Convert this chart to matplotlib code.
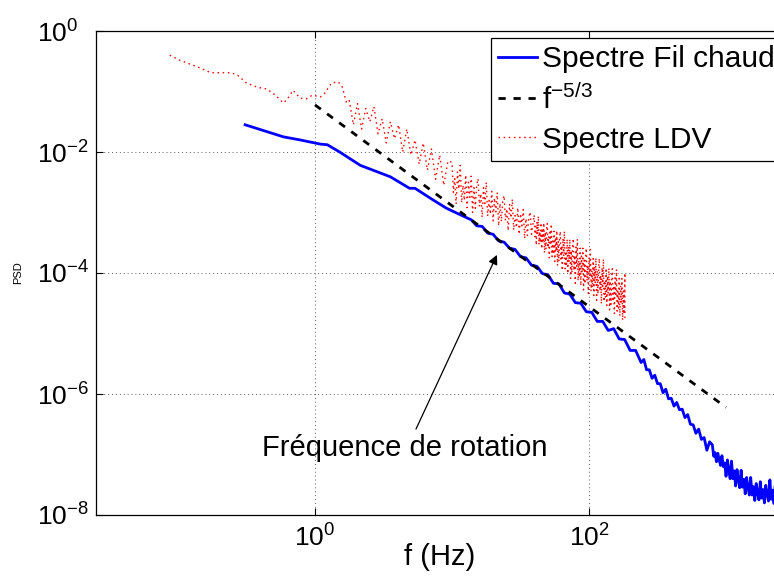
import numpy as np
import matplotlib
matplotlib.use("Agg")
from matplotlib import pyplot as plt
from matplotlib.ticker import NullLocator

plt.rcParams["font.family"] = ["Liberation Sans", "DejaVu Sans"]
plt.rcParams["mathtext.fontset"] = "custom"
plt.rcParams["mathtext.rm"] = "Liberation Sans"
plt.rcParams["mathtext.it"] = "Liberation Sans:italic"
plt.rcParams["mathtext.sf"] = "Liberation Sans"

# hot-wire spectrum (log10 of f and of PSD)
fil_logf = [-0.51, -0.23, -0.11, 0.04, 0.09, 0.18, 0.33, 0.55, 0.69, 0.73, 0.86, 0.96, 1.11,
            1.14, 1.18, 1.22, 1.26, 1.30, 1.34, 1.38, 1.42, 1.46, 1.50, 1.54, 1.58, 1.62, 1.66,
            1.70, 1.74, 1.78, 1.82, 1.86, 1.90, 1.94, 1.98, 2.02, 2.06, 2.10, 2.14, 2.18, 2.22,
            2.26, 2.30, 2.34, 2.38,
            2.40, 2.42, 2.44, 2.46, 2.48, 2.50, 2.52, 2.54, 2.56, 2.58, 2.60, 2.62, 2.64, 2.66,
            2.68, 2.70, 2.72, 2.74, 2.76, 2.78, 2.80, 2.82, 2.84, 2.86, 2.88,
            2.90, 2.91, 2.92, 2.93, 2.94, 2.95, 2.96, 2.97, 2.98, 2.99,
            3.00, 3.01, 3.02, 3.03, 3.04, 3.05, 3.06, 3.07, 3.08, 3.09,
            3.10, 3.11, 3.12, 3.13, 3.14, 3.15, 3.16, 3.17, 3.18, 3.19,
            3.20, 3.21, 3.22, 3.23, 3.24, 3.25, 3.26, 3.27, 3.28, 3.29,
            3.30, 3.31, 3.32, 3.33, 3.34, 3.35, 3.36, 3.37, 3.38, 3.39, 3.40]
fil_logpsd = [-1.55, -1.75, -1.80, -1.87, -1.88, -2.00, -2.22, -2.41, -2.60, -2.60, -2.79, -2.93, -3.09,
              -3.12, -3.22, -3.23, -3.34, -3.36, -3.47, -3.49, -3.59, -3.61, -3.73, -3.75, -3.87, -3.89, -4.01,
              -4.03, -4.17, -4.18, -4.33, -4.35, -4.49, -4.50, -4.64, -4.65, -4.80, -4.80, -4.95, -4.92, -5.09,
              -5.10, -5.28, -5.28, -5.48,
              -5.43, -5.60, -5.60, -5.74, -5.69, -5.83, -5.83, -5.98, -5.92, -6.08, -6.07, -6.20, -6.14, -6.26,
              -6.25, -6.39, -6.34, -6.50, -6.51, -6.65, -6.58, -6.75, -6.72, -6.93, -6.79,
              -6.84, -7.03, -6.97, -7.12, -6.98, -7.09, -7.18, -7.02, -7.20, -7.14,
              -7.36, -7.09, -7.26, -7.40, -7.11, -7.40, -7.27, -7.52, -7.25, -7.42,
              -7.55, -7.26, -7.54, -7.41, -7.65, -7.38, -7.54, -7.67, -7.38, -7.67,
              -7.53, -7.76, -7.48, -7.64, -7.75, -7.45, -7.72, -7.58, -7.80, -7.51,
              -7.66, -7.77, -7.42, -7.74, -7.59, -7.81, -7.44, -7.67, -7.78, -7.42, -7.74]

# LDV spectrum (log10 of f and of PSD)
ldv_logf = [-1.06, -0.99, -0.91, -0.84, -0.76, -0.61, -0.56, -0.50, -0.42, -0.35, -0.29, -0.23,
            -0.20, -0.16, -0.11, -0.06, -0.02, 0.04, 0.07, 0.12, 0.17, 0.20, 0.23,
            0.25, 0.28, 0.31, 0.34, 0.37, 0.40, 0.43, 0.46, 0.49, 0.52, 0.55, 0.58, 0.61,
            0.64, 0.67, 0.70, 0.73, 0.76, 0.79, 0.82, 0.85, 0.88, 0.91, 0.94, 0.97,
            1.00, 1.01, 1.02, 1.03, 1.04, 1.05, 1.06, 1.07, 1.08, 1.09,
            1.10, 1.11, 1.12, 1.13, 1.14, 1.15, 1.16, 1.17, 1.18, 1.19,
            1.20, 1.21, 1.22, 1.23, 1.24, 1.25, 1.26, 1.27, 1.28, 1.29,
            1.30, 1.31, 1.32, 1.33, 1.34, 1.35, 1.36, 1.37, 1.38, 1.39,
            1.40, 1.41, 1.42, 1.43, 1.44, 1.45, 1.46, 1.47, 1.48, 1.49,
            1.50, 1.51, 1.52, 1.53, 1.54, 1.55, 1.56, 1.57, 1.58, 1.59,
            1.600, 1.605, 1.610, 1.615, 1.620, 1.625, 1.630, 1.635, 1.640, 1.645,
            1.650, 1.655, 1.660, 1.665, 1.670, 1.675, 1.680, 1.685, 1.690, 1.695,
            1.700, 1.705, 1.710, 1.715, 1.720, 1.725, 1.730, 1.735, 1.740, 1.745,
            1.750, 1.755, 1.760, 1.765, 1.770, 1.775, 1.780, 1.785, 1.790, 1.795,
            1.800, 1.805, 1.810, 1.815, 1.820, 1.825, 1.830, 1.835, 1.840, 1.845,
            1.850, 1.855, 1.860, 1.865, 1.870, 1.875, 1.880, 1.885, 1.890, 1.895,
            1.900, 1.905, 1.910, 1.915, 1.920, 1.925, 1.930, 1.935, 1.940, 1.945,
            1.950, 1.955, 1.960, 1.965, 1.970, 1.975, 1.980, 1.985, 1.990, 1.995,
            2.000, 2.005, 2.010, 2.015, 2.020, 2.025, 2.030, 2.035, 2.040, 2.045,
            2.050, 2.055, 2.060, 2.065, 2.070, 2.075, 2.080, 2.085, 2.090, 2.095,
            2.100, 2.105, 2.110, 2.115, 2.120, 2.125, 2.130, 2.135, 2.140, 2.145,
            2.150, 2.155, 2.160, 2.165, 2.170, 2.175, 2.180, 2.185, 2.190, 2.195,
            2.200, 2.205, 2.210, 2.215, 2.220, 2.225, 2.230, 2.235, 2.240, 2.245,
            2.250, 2.255, 2.260, 2.262, 2.262]
ldv_logpsd = [-0.40, -0.48, -0.55, -0.61, -0.69, -0.69, -0.74, -0.86, -0.93, -0.96, -1.06, -1.19,
              -1.12, -0.98, -1.11, -1.12, -1.06, -1.09, -1.03, -0.86, -0.84, -0.93, -1.19,
              -1.15, -1.55, -1.20, -1.62, -1.28, -1.50, -1.25, -1.70, -1.45, -1.85, -1.50, -1.78, -1.55,
              -2.00, -1.62, -2.05, -1.80, -2.20, -1.85, -2.30, -1.95, -2.45, -2.05, -2.55, -2.15,
              -2.17, -2.67, -2.44, -2.86, -2.33, -2.61, -2.22, -2.84, -2.55, -2.80,
              -2.38, -2.92, -2.50, -2.75, -2.40, -3.00, -2.59, -2.93, -2.55, -2.44,
              -2.90, -2.69, -3.08, -2.59, -2.85, -2.50, -3.06, -2.80, -3.03, -2.65,
              -3.14, -2.76, -2.99, -2.67, -3.22, -2.85, -3.15, -2.82, -2.72, -3.13,
              -2.94, -3.30, -2.86, -3.09, -2.78, -3.29, -3.05, -3.25, -2.92, -3.36,
              -3.02, -3.22, -2.95, -3.43, -3.10, -3.38, -3.08, -2.99, -3.36, -3.20,
              -3.04, -3.40, -3.23, -3.54, -3.15, -3.36, -3.06, -3.53, -3.31, -3.50,
              -3.17, -3.60, -3.26, -3.46, -3.17, -3.67, -3.32, -3.61, -3.28, -3.18,
              -3.58, -3.39, -3.75, -3.29, -3.54, -3.19, -3.73, -3.47, -3.69, -3.31,
              -3.81, -3.41, -3.64, -3.30, -3.88, -3.48, -3.81, -3.43, -3.31, -3.77,
              -3.55, -3.96, -3.43, -3.71, -3.31, -3.93, -3.64, -3.89, -3.44, -4.01,
              -3.56, -3.82, -3.44, -4.09, -3.63, -4.00, -3.57, -3.43, -3.96, -3.71,
              -4.17, -3.57, -3.89, -3.44, -4.13, -3.80, -4.07, -3.59, -4.21, -3.72,
              -3.99, -3.59, -4.28, -3.79, -4.18, -3.73, -3.59, -4.13, -3.88, -4.34,
              -3.74, -4.05, -3.61, -4.30, -3.97, -4.24, -3.76, -4.37, -3.89, -4.16,
              -3.75, -4.45, -3.96, -4.35, -3.90, -3.76, -4.30, -4.04, -4.51, -3.91,
              -4.22, -3.77, -4.47, -4.13, -4.41, -3.92, -4.54, -4.05, -4.33, -3.92,
              -4.61, -4.13, -4.52, -4.07, -3.93, -4.47, -4.21, -4.67, -4.08, -4.39,
              -3.94, -4.63, -4.30, -4.58, -4.09, -4.71, -4.22, -4.50, -4.09, -4.78,
              -4.30, -4.68, -4.24, -4.00, -4.75]

# f^-5/3 reference line end points
ref_f = [1.0, 1000.0]
ref_psd = [6.0e-2, 6.0e-7]

# arrow and label positions (log10 f, log10 PSD)
arrow_head = (1.328, -3.70)
arrow_tail = (0.737, -6.58)
note_pos = (0.657, -6.89)

fil_f = 10 ** np.array(fil_logf)
fil_psd = 10 ** np.array(fil_logpsd)
ldv_f = 10 ** np.array(ldv_logf)
ldv_psd = 10 ** np.array(ldv_logpsd)

fig = plt.figure(figsize=(7.74, 5.76), dpi=100)
ax = fig.add_axes([96 / 774, 61 / 576, 688 / 774, 484 / 576])

ax.loglog(fil_f, fil_psd, color=(0, 0, 1), lw=2, label="Spectre Fil chaud")
ax.loglog(ref_f, ref_psd, color="k", lw=2, dashes=(2.6, 2.8), label=r"$\mathregular{f^{-5/3}}$")
ax.loglog(ldv_f, ldv_psd, color=(1, 0, 0), lw=1.0, linestyle=(0, (1.1, 2.6)), label="Spectre LDV")

ax.set_xlim(10 ** -1.5985, 10 ** 3.423)
ax.set_ylim(1e-8, 1e0)
ax.set_xticks([1, 100])
ax.set_yticks([1e0, 1e-2, 1e-4, 1e-6, 1e-8])
ax.xaxis.set_minor_locator(NullLocator())
ax.yaxis.set_minor_locator(NullLocator())
ax.tick_params(which="major", direction="in", length=5, width=0.8, top=True, right=True,
               labelsize=19)
ax.tick_params(axis="x", pad=7)
# MATLAB lines up the "10" of every y label, so anchor them on the left
ax.tick_params(axis="y", pad=42.5)
for lbl in ax.get_yticklabels():
    lbl.set_horizontalalignment("left")
ax.grid(True, which="major", linestyle=(0, (1, 3)), color="0.35", linewidth=0.7)
for sp in ax.spines.values():
    sp.set_linewidth(0.9)

ax.set_xlabel("f (Hz)", fontsize=21)
ax.xaxis.set_label_coords(0.5, -0.057)
ax.set_ylabel("PSD", fontsize=8, labelpad=10)

ax.annotate("", xy=(10 ** arrow_head[0], 10 ** arrow_head[1]),
            xytext=(10 ** arrow_tail[0], 10 ** arrow_tail[1]),
            arrowprops=dict(arrowstyle="-|>", color="k", lw=0.9, mutation_scale=14,
                            shrinkA=0, shrinkB=0))
ax.text(10 ** note_pos[0], 10 ** note_pos[1], "Fréquence de rotation",
        ha="center", va="center", fontsize=21)

leg = ax.legend(loc="upper left", bbox_to_anchor=(0.574, 0.9855), borderaxespad=0,
                fontsize=21.5, handlelength=1.3, handletextpad=0.15, borderpad=0.25,
                labelspacing=0.36, fancybox=False, framealpha=1, edgecolor="k")
leg.get_frame().set_linewidth(0.9)

fig.savefig("out.png", dpi=100)
